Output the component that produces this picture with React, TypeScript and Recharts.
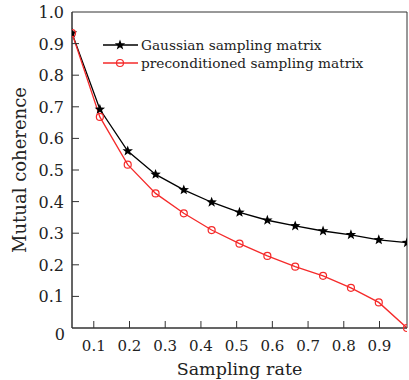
import React from "react";
import {
  LineChart,
  Line,
  XAxis,
  YAxis,
  ReferenceArea,
  Label,
} from "recharts";

// sampling rate m/N
const rates = [0.039, 0.117, 0.195, 0.273, 0.352, 0.43, 0.508, 0.586, 0.664, 0.742, 0.82, 0.898, 0.977];
const gaussian = [0.933, 0.692, 0.56, 0.486, 0.437, 0.398, 0.366, 0.341, 0.323, 0.307, 0.295, 0.279, 0.27];
const preconditioned = [0.933, 0.668, 0.517, 0.426, 0.363, 0.31, 0.267, 0.228, 0.194, 0.165, 0.127, 0.081, 0.0];

const xTicks = [0.1, 0.2, 0.3, 0.4, 0.5, 0.6, 0.7, 0.8, 0.9];
const yTicks = [0, 0.1, 0.2, 0.3, 0.4, 0.5, 0.6, 0.7, 0.8, 0.9, 1.0];

const seriesNames = ["Gaussian sampling matrix", "preconditioned sampling matrix"];

const data = rates.map((r, i) => ({
  rate: r,
  gaussian: gaussian[i],
  precond: preconditioned[i],
}));

const FONT = "'DejaVu Serif', serif";
const AXIS = "#333";
const RED = "#f52a2a";

function starPath(cx: number, cy: number, R: number, r: number) {
  let d = "";
  for (let i = 0; i < 10; i++) {
    const rad = i % 2 === 0 ? R : r;
    const a = -Math.PI / 2 + (i * Math.PI) / 5;
    d += (i === 0 ? "M" : "L") + (cx + rad * Math.cos(a)).toFixed(2) + "," + (cy + rad * Math.sin(a)).toFixed(2);
  }
  return d + "Z";
}

const StarDot = (props: any) => {
  const { cx, cy, index } = props;
  if (cx == null || cy == null) return null;
  return <path key={"s" + index} d={starPath(cx, cy, 5.5, 2.3)} fill="#000" />;
};

const CircleDot = (props: any) => {
  const { cx, cy, index } = props;
  if (cx == null || cy == null) return null;
  return <circle key={"c" + index} cx={cx} cy={cy} r={3.5} fill="none" stroke={RED} strokeWidth={1.2} />;
};

const TICK_MARGIN = 8;

const XTick = (props: any) => {
  const { x, y, payload } = props;
  const axisY = y - TICK_MARGIN;
  return (
    <g>
      <line x1={x} y1={axisY} x2={x} y2={axisY - 7} stroke={AXIS} strokeWidth={1} />
      <text x={x} y={y + 15} textAnchor="middle" fontFamily={FONT} fontSize={15} fill="#222">
        {payload.value.toFixed(1)}
      </text>
    </g>
  );
};

const YTick = (props: any) => {
  const { x, y, payload } = props;
  const axisX = x + TICK_MARGIN;
  const v = payload.value;
  const isEdge = v === 0 || v === 1;
  return (
    <g>
      {!isEdge && <line x1={axisX} y1={y} x2={axisX + 7} y2={y} stroke={AXIS} strokeWidth={1} />}
      <text
        x={v === 0 ? x + 1 : x}
        y={v === 0 ? y + 12 : y + 6}
        textAnchor="end"
        fontFamily={FONT}
        fontSize={16}
        fill="#222"
      >
        {v === 0 ? "0" : v.toFixed(1)}
      </text>
    </g>
  );
};

const LegendBox = () => (
  <div
    style={{
      position: "absolute",
      left: 103,
      top: 36,
      fontFamily: FONT,
      fontSize: 13.7,
      color: "#222",
      lineHeight: "18px",
      whiteSpace: "nowrap",
    }}
  >
    {seriesNames.map((name, i) => (
      <div key={name} style={{ display: "flex", alignItems: "center", height: 18 }}>
        <svg width={37} height={18} style={{ marginRight: 1 }}>
          <line x1={0} y1={9} x2={35} y2={9} stroke={i === 0 ? "#000" : RED} strokeWidth={1.3} />
          {i === 0 ? (
            <path d={starPath(17, 9, 5.5, 2.3)} fill="#000" />
          ) : (
            <circle cx={17} cy={9} r={3.5} fill="none" stroke={RED} strokeWidth={1.2} />
          )}
        </svg>
        <span>{name}</span>
      </div>
    ))}
  </div>
);

export default function App() {
  return (
    <div style={{ position: "absolute", left: 0, top: 0, width: 409, height: 380, background: "#fff" }}>
      <LineChart
        width={409}
        height={380}
        data={data}
        margin={{ top: 12, right: 2, left: 0, bottom: 0 }}
      >
        <XAxis
          dataKey="rate"
          type="number"
          domain={[0.039, 0.977]}
          allowDataOverflow
          ticks={xTicks}
          interval={0}
          tickSize={0}
          tickMargin={TICK_MARGIN}
          tickLine={false}
          tick={<XTick />}
          axisLine={{ stroke: AXIS }}
          height={52}
        >
          <Label
            value="Sampling rate"
            position="insideBottom"
            offset={5}
            style={{ fontFamily: FONT, fontSize: 17.5, fill: "#222" }}
          />
        </XAxis>
        <YAxis
          type="number"
          domain={[0, 1]}
          ticks={yTicks}
          interval={0}
          tickSize={0}
          tickMargin={TICK_MARGIN}
          tickLine={false}
          tick={<YTick />}
          axisLine={{ stroke: AXIS }}
          width={72}
        >
          <Label
            value="Mutual coherence"
            angle={-90}
            position="insideLeft"
            offset={20}
            style={{ fontFamily: FONT, fontSize: 18, fill: "#222", textAnchor: "middle" }}
          />
        </YAxis>
        <ReferenceArea
          x1={0.039}
          x2={0.977}
          y1={0}
          y2={1}
          fill="none"
          stroke={AXIS}
          strokeWidth={1}
          ifOverflow="visible"
        />
        <Line
          type="linear"
          dataKey="gaussian"
          name={seriesNames[0]}
          stroke="#000"
          strokeWidth={1.3}
          dot={<StarDot />}
          isAnimationActive={false}
        />
        <Line
          type="linear"
          dataKey="precond"
          name={seriesNames[1]}
          stroke={RED}
          strokeWidth={1.3}
          dot={<CircleDot />}
          isAnimationActive={false}
        />
      </LineChart>
      <LegendBox />
    </div>
  );
}
